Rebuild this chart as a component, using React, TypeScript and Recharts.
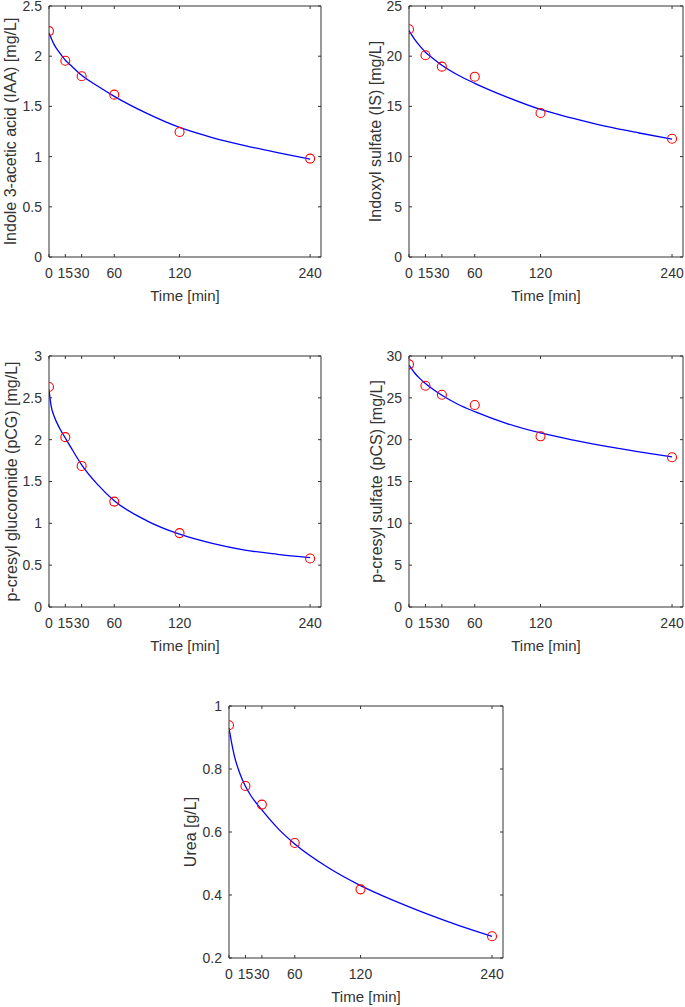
import { Line, LineChart, XAxis, YAxis } from 'recharts';

// sampling times of the measured points, and of the fitted curve
const sampleTimes = [0, 15, 30, 60, 120, 240];
const fitTimes = [0, 2, 5, 10, 15, 20, 30, 45, 60, 90, 120, 150, 180, 210, 240];
const timeTicks = [0, 15, 30, 60, 120, 240];

const iaaMeasured = [2.25, 1.955, 1.8, 1.617, 1.245, 0.98];
const iaaFit = [2.23, 2.18, 2.11, 2.03, 1.96, 1.91, 1.81, 1.7, 1.6, 1.43, 1.29, 1.19, 1.11, 1.04, 0.975];
const iaaTicks = [0, 0.5, 1, 1.5, 2, 2.5];

const isMeasured = [22.68, 20.1, 18.96, 17.96, 14.34, 11.78];
const isFit = [22.55, 22.2, 21.7, 21.0, 20.4, 19.95, 19.1, 18.1, 17.3, 15.9, 14.7, 13.8, 13.0, 12.35, 11.75];
const isTicks = [0, 5, 10, 15, 20, 25];

const pcgMeasured = [2.63, 2.03, 1.686, 1.26, 0.883, 0.58];
const pcgFit = [2.6, 2.4, 2.27, 2.13, 2.02, 1.91, 1.7, 1.46, 1.27, 1.03, 0.87, 0.76, 0.68, 0.63, 0.59];
const pcgTicks = [0, 0.5, 1, 1.5, 2, 2.5, 3];

const pcsMeasured = [29.0, 26.45, 25.37, 24.14, 20.4, 17.9];
const pcsFit = [28.9, 28.55, 28.0, 27.3, 26.7, 26.2, 25.3, 24.2, 23.35, 21.9, 20.8, 19.95, 19.2, 18.55, 17.95];
const pcsTicks = [0, 5, 10, 15, 20, 25, 30];

const ureaMeasured = [0.939, 0.746, 0.687, 0.565, 0.418, 0.269];
const ureaFit = [0.93, 0.89, 0.84, 0.785, 0.745, 0.715, 0.67, 0.61, 0.562, 0.488, 0.43, 0.383, 0.341, 0.303, 0.269];
const ureaTicks = [0.2, 0.4, 0.6, 0.8, 1];

const AXIS = '#333';
const TEXT = '#333';
const X_AXIS_H = 44;

const panels = [
  { yLabel: 'Indole 3-acetic acid (IAA) [mg/L]', measured: iaaMeasured, fit: iaaFit, ticks: iaaTicks,
    pos: { left: 0, top: 0, width: 345, height: 320 }, box: { l: 49, t: 6, r: 321, b: 257 }, labelX: 10 },
  { yLabel: 'Indoxyl sulfate (IS) [mg/L]', measured: isMeasured, fit: isFit, ticks: isTicks,
    pos: { left: 345, top: 0, width: 340, height: 320 }, box: { l: 409, t: 6, r: 683, b: 257 }, labelX: 375 },
  { yLabel: 'p-cresyl glucoronide (pCG) [mg/L]', measured: pcgMeasured, fit: pcgFit, ticks: pcgTicks,
    pos: { left: 0, top: 330, width: 345, height: 330 }, box: { l: 49, t: 356, r: 321, b: 607 }, labelX: 11 },
  { yLabel: 'p-cresyl sulfate (pCS) [mg/L]', measured: pcsMeasured, fit: pcsFit, ticks: pcsTicks,
    pos: { left: 345, top: 330, width: 340, height: 330 }, box: { l: 409, t: 356, r: 683, b: 607 }, labelX: 376 },
  { yLabel: 'Urea [g/L]', measured: ureaMeasured, fit: ureaFit, ticks: ureaTicks,
    pos: { left: 180, top: 680, width: 345, height: 327 }, box: { l: 229, t: 706, r: 503, b: 958 }, labelX: 190 },
];

type PanelDef = (typeof panels)[number];

function Panel({ p }: { p: PanelDef }) {
  const { pos, box } = p;
  const measured = sampleTimes.map((t, i) => ({ t, v: p.measured[i] }));
  const fit = fitTimes.map((t, i) => ({ t, v: p.fit[i] }));
  const yDomain = [p.ticks[0], p.ticks[p.ticks.length - 1]];
  // top and right axes are 1px thick, so the margins give that pixel back
  const margin = {
    top: box.t - pos.top - 1,
    right: pos.left + pos.width - box.r - 1,
    bottom: pos.top + pos.height - box.b - X_AXIS_H,
    left: 0,
  };
  const tickStyle = { fill: TEXT, fontSize: 14 };

  return (
    <div style={{ position: 'absolute', left: pos.left, top: pos.top, width: pos.width, height: pos.height }}>
      <LineChart width={pos.width} height={pos.height} margin={margin}>
        <XAxis
          dataKey="t"
          type="number"
          domain={[0, 250]}
          ticks={timeTicks}
          interval={0}
          allowDataOverflow
          height={X_AXIS_H}
          stroke={AXIS}
          tickSize={-3}
          tickMargin={14}
          tick={tickStyle}
          label={{ value: 'Time [min]', position: 'insideBottom', offset: 0, fill: TEXT, fontSize: 15 }}
        />
        <XAxis
          xAxisId="top"
          orientation="top"
          dataKey="t"
          type="number"
          domain={[0, 250]}
          ticks={timeTicks}
          interval={0}
          allowDataOverflow
          height={1}
          stroke={AXIS}
          tickSize={-3}
          tickFormatter={() => ''}
        />
        <YAxis
          type="number"
          domain={yDomain}
          ticks={p.ticks}
          interval={0}
          allowDataOverflow
          width={box.l - pos.left}
          stroke={AXIS}
          tickSize={-3}
          tickMargin={10}
          tick={tickStyle}
          label={{
            value: p.yLabel,
            angle: -90,
            position: 'insideLeft',
            offset: p.labelX - pos.left,
            fill: TEXT,
            fontSize: 16,
            style: { textAnchor: 'middle' },
          }}
        />
        <YAxis
          yAxisId="right"
          orientation="right"
          type="number"
          domain={yDomain}
          ticks={p.ticks}
          interval={0}
          allowDataOverflow
          width={1}
          stroke={AXIS}
          tickSize={-3}
          tickFormatter={() => ''}
        />
        <Line
          data={fit}
          dataKey="v"
          type="monotone"
          stroke="#0000ff"
          strokeWidth={1.3}
          dot={false}
          activeDot={false}
          isAnimationActive={false}
        />
        <Line
          data={measured}
          dataKey="v"
          stroke="none"
          dot={{ r: 4.5, stroke: '#ff0000', strokeWidth: 1.1, fill: 'none' }}
          activeDot={false}
          isAnimationActive={false}
        />
      </LineChart>
    </div>
  );
}

export default function App() {
  return (
    <div
      style={{
        position: 'absolute',
        left: 0,
        top: 0,
        width: 685,
        height: 1007,
        background: '#fff',
        fontFamily: '"Liberation Sans", Arial, sans-serif',
      }}
    >
      {panels.map((p) => (
        <Panel key={p.yLabel} p={p} />
      ))}
    </div>
  );
}
